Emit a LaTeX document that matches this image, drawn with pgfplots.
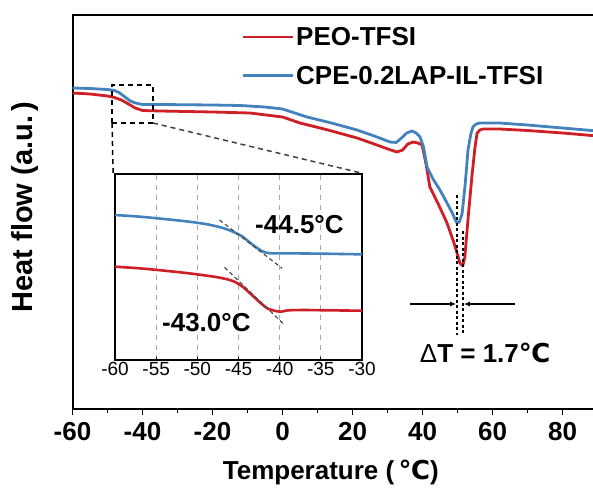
\documentclass[border=0pt]{standalone}
\usepackage{fontspec}
\setmainfont{Liberation Sans}
\newfontfamily\dejavu{DejaVu Sans}
\usepackage{pgfplots}
\pgfplotsset{compat=1.18}
\usetikzlibrary{arrows.meta}

\definecolor{peored}{RGB}{206,30,38}
\definecolor{cpeblue}{RGB}{68,130,190}

\newcommand{\lblfont}{\fontsize{26}{30}\selectfont\bfseries}

\begin{document}
\begin{tikzpicture}
% ---------------- main DSC curves ----------------
\begin{axis}[
  name=main,
  scale only axis,
  width=525pt, height=394pt,
  xmin=-60, xmax=90, ymin=0, ymax=394,
  axis line style={line width=2pt},
  ytick=\empty,
  xtick={-60,-40,-20,0,20,40,60,80},
  xticklabels={-60,-40,-20,0,20,40,60,80},
  minor x tick num=1,
  xtick pos=bottom,
  tick align=outside,
  major tick length=6pt, minor tick length=4pt,
  every tick/.style={line width=1.6pt, black},
  xticklabel style={font=\lblfont, yshift=-4pt},
  every axis x label/.style={at={(axis description cs:0.492,-0.162)}, anchor=center},
  every axis y label/.style={at={(axis description cs:-0.0905,0.513)}, rotate=90, anchor=center},
  xlabel={\lblfont Temperature (\,{\dejavu\bfseries ℃})},
  ylabel={\fontsize{29}{32}\selectfont\bfseries Heat flow (a.u.\,)},
  legend style={at={(axis cs:-11.8,384)}, anchor=north west, draw=none, fill=none,
    font=\lblfont, row sep=15pt, inner sep=0pt,
    /tikz/every even column/.style={column sep=7pt}},
  legend cell align=left,
  legend image code/.code={\draw[#1, line width=2.8pt] (0pt,0pt) -- (50pt,0pt);},
]
\addplot[peored, line width=2.8pt, line join=round] coordinates {
(-60,316) (-55,315) (-50,313) (-48,311.5) (-46,309) (-44,305) (-42.1,301)
(-40,298.5) (-35,298) (-20,297) (-9.3,296) (0,292) (5,286) (13,279)
(21.3,271) (27,264) (30.5,259.5) (32.7,257) (34.3,259) (35.8,265) (37.3,267)
(38.7,266) (39.9,264) (41,245) (42.1,222) (44.5,205) (47,186) (49,166)
(50.7,146) (51.5,143) (52.1,152) (53,190) (54.1,232) (55,262) (55.6,276)
(56.4,279) (57.3,280) (62,280) (70,278.5) (80,276) (90,273)
};
\addlegendentry{PEO-TFSI}
\addplot[cpeblue, line width=2.8pt, line join=round] coordinates {
(-60,321) (-55,320.5) (-50,319.5) (-48,318.5) (-46.5,316) (-45,312) (-43.5,308)
(-42,306) (-40,304.5) (-35,304.5) (-20,304) (-12,303.5) (-5,302) (0,300) (7,292)
(14,286) (21.3,279) (27,272) (30.7,267) (32.5,266.5) (34,271) (35.5,276)
(37,278) (38.2,276) (39.3,272) (40.3,262) (41.3,242) (43,230) (45,219)
(47,206) (48.5,196) (49.8,186) (50.5,187) (51.3,195) (52.2,225) (53,259)
(53.8,275) (54.4,282) (55.3,285) (56.4,286) (62,286) (70,284) (80,281) (90,278)
};
\addlegendentry{CPE-0.2LAP-IL-TFSI}

% zoomed region and its connectors
\draw[black, line width=1.5pt, dash pattern=on 5pt off 4pt]
  (axis cs:-48.7,286) rectangle (axis cs:-37,324);
\draw[black, line width=1.5pt, dash pattern=on 5pt off 4pt]
  (axis cs:-48.7,286) -- (axis cs:-48.4,236);
\draw[black!75, line width=1.5pt, dash pattern=on 5pt off 4pt]
  (axis cs:-37,286) -- (axis cs:22.5,236);

% peak shift of the melting endotherm
\draw[black, line width=1.8pt, dash pattern=on 3pt off 2.5pt]
  (axis cs:49.8,214) -- (axis cs:49.8,74);
\draw[black, line width=1.8pt, dash pattern=on 3pt off 2.5pt]
  (axis cs:51.6,178) -- (axis cs:51.6,74);
\draw[-{Latex[length=6pt,width=5pt]}, line width=1.3pt]
  (axis cs:36.4,105) -- (axis cs:49.6,105);
\draw[-{Latex[length=6pt,width=5pt]}, line width=1.3pt]
  (axis cs:66.4,105) -- (axis cs:51.8,105);
\node[font=\lblfont] at (axis cs:57.9,56)
  {{\mdseries Δ}T = 1.7{\dejavu\bfseries ℃}};
\end{axis}

% ---------------- inset: glass transition ----------------
\begin{axis}[
  at={(42.5pt,49pt)}, anchor=south west,
  scale only axis,
  width=247pt, height=186pt,
  xmin=-60, xmax=-30, ymin=0, ymax=558,
  axis background/.style={fill=white},
  axis line style={line width=1.5pt},
  ytick=\empty,
  xtick={-60,-55,...,-30},
  xticklabels={-60,-55,-50,-45,-40,-35,-30},
  xtick pos=bottom,
  tick align=inside,
  major tick length=3pt,
  every tick/.style={line width=1pt, black},
  xticklabel style={font=\fontsize{19}{22}\selectfont, yshift=1pt},
  xmajorgrids,
  grid style={gray!70, line width=1pt, dash pattern=on 5pt off 5pt},
]
\addplot[peored, line width=2.6pt, smooth, tension=0.4] coordinates {
(-60,280) (-57,275) (-54,268) (-51,260) (-48,250) (-46.5,243) (-45.5,235)
(-44.5,220) (-43.5,198) (-42.5,175) (-41.5,155) (-40.5,147) (-39.8,145)
(-39,149) (-37,150) (-34,149) (-30,148)
};
\addplot[cpeblue, line width=2.6pt, smooth, tension=0.4] coordinates {
(-60,435) (-57,430) (-54,423) (-51,415) (-49,408) (-47.5,400) (-46.5,393)
(-45.5,383) (-44.5,370) (-43.5,350) (-42.5,332) (-41.8,323) (-41,320)
(-39,320) (-35,319) (-30,317)
};
% onset tangents
\draw[black!70, line width=1.2pt, dash pattern=on 4pt off 3pt]
  (axis cs:-47.3,420) -- (axis cs:-39.7,275);
\draw[black!70, line width=1.2pt, dash pattern=on 4pt off 3pt]
  (axis cs:-46.7,278) -- (axis cs:-39.6,110);
\node[font=\lblfont] at (axis cs:-37.6,405) {-44.5°C};
\node[font=\lblfont] at (axis cs:-48.9,112) {-43.0°C};
\end{axis}

\pgfresetboundingbox
\useasboundingbox (-72.5pt,-79pt) rectangle (520.5pt,409pt);
\end{tikzpicture}
\end{document}
